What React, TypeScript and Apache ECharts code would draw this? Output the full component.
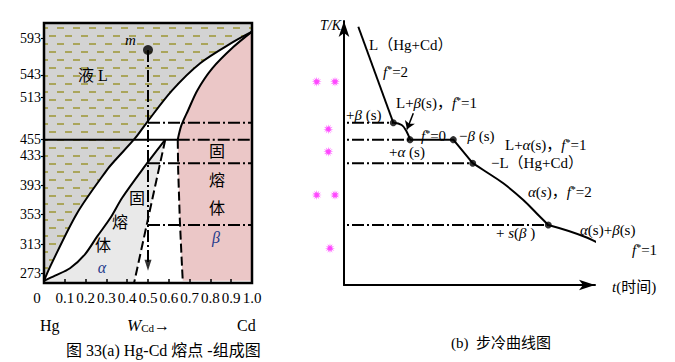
import React, { useEffect, useRef } from 'react';
import * as echarts from 'echarts';

// ---------- data (left: Hg-Cd melting point / composition diagram) ----------
const yTickValues = [273, 313, 353, 393, 433, 455, 513, 543, 593];
const liquidus = [[0, 263], [0.029, 282], [0.159, 355], [0.303, 414], [0.342, 427], [0.438, 457], [0.496, 479], [0.616, 522], [0.751, 559], [0.91, 588], [1.0, 602]];
const alphaSolidus = [[0, 263], [0.053, 270], [0.125, 280], [0.197, 299], [0.255, 323], [0.318, 348], [0.376, 376], [0.472, 414], [0.583, 455]];
const alphaSolvus = [[0.583, 455], [0.433, 260]];
const betaSolidus = [[0.643, 455], [0.66, 474], [0.693, 495], [0.737, 522], [0.809, 552], [0.91, 581], [1.0, 602]];
const betaSolvus = [[0.643, 455], [0.645, 414], [0.653, 346], [0.662, 291], [0.667, 263]];
const peritecticT = 455;
const peritecticW = [0, 0.643];
const meltW = 0.5;
const pointM = [0.5, 577];
const arrowT = 284;
const breakTemps = [478, 455, 423, 339];
const dashStartW = [0.5, 0.643, 0.5, 0.5];

// ---------- data (right: cooling curve) ----------
const seg1 = [[1.43, 608.6], [4.93, 478]];
const seg2 = [[4.93, 478], [5.77, 474.9], [6.27, 465.8], [6.6, 455]];
const seg3 = [[6.6, 455], [10.93, 455], [12.87, 423]];
const seg4 = [[12.87, 423], [13.93, 413.7], [15.93, 395.6], [17.93, 372.9], [19.6, 350.1], [20.43, 339]];
const seg5 = [[20.43, 339], [24.27, 321.9], [27.6, 298], [29.27, 283]];
const breakPoints = [[4.93, 478], [6.6, 455], [10.93, 455], [12.87, 423], [20.43, 339]];
const dashEndIndex = [0, 1, 3, 4];
const stars = [[-2.73, 533.8], [-0.9, 533.8], [-1.57, 469.3], [-1.57, 438.6], [-2.73, 379.7], [-0.9, 379.7], [-1.4, 307.2]];
const pointerArrow = [[6.93, 491], [6.3, 469]];

// ---------- layout ----------
const GL = { left: 44, top: 23, width: 208, height: 260 };
const GR = { left: 344, top: 21, width: 251, height: 264 };
const Y_MIN_L = 260;
const Y_MAX_L = 613.7;
const K_PER_PX = (Y_MAX_L - Y_MIN_L) / GL.height;
const Y_MIN_R = Y_MIN_L - (GR.top + GR.height - (GL.top + GL.height)) * K_PER_PX;
const Y_MAX_R = Y_MAX_L + (GL.top - GR.top) * K_PER_PX;
const T_PER_PX = 0.1;
const X_MAX_R = GR.width * T_PER_PX;
const T_LEFT = -(GR.left - (GL.left + GL.width)) * T_PER_PX;

const FONT = "'Liberation Serif', 'Noto Sans CJK SC', serif";
const DASHDOT = [12, 3, 2, 3];

const RICH: any = {
  i: { fontStyle: 'italic', fontFamily: FONT, fontSize: 15, fill: '#000' },
  sup: { fontFamily: FONT, fontSize: 10, verticalAlign: 'top', fill: '#000' },
  sub: { fontFamily: FONT, fontSize: 11, verticalAlign: 'bottom', fill: '#000' },
  w: { fontStyle: 'italic', fontFamily: FONT, fontSize: 17, fill: '#000' },
  b: { fontStyle: 'italic', fontFamily: FONT, fontSize: 16, fill: '#1f3b8c' },
};

function txt(x: number, y: number, text: string, extra: any = {}) {
  return {
    type: 'text',
    x,
    y,
    z: 100,
    style: {
      text,
      fontFamily: FONT,
      fontSize: 15,
      fill: '#000',
      align: 'left',
      verticalAlign: 'middle',
      textAlign: 'left',
      textVerticalAlign: 'middle',
      rich: RICH,
      ...extra,
    },
  };
}

function starPath() {
  let d = '';
  const n = 12;
  for (let i = 0; i < 2 * n; i++) {
    const r = i % 2 === 0 ? 10 : 4;
    const a = (Math.PI * i) / n;
    d += (i ? 'L' : 'M') + (r * Math.cos(a)).toFixed(2) + ',' + (r * Math.sin(a)).toFixed(2);
  }
  return 'path://' + d + 'Z';
}

function polySeries(points: number[][], color: string) {
  return {
    type: 'custom',
    xAxisIndex: 0,
    yAxisIndex: 0,
    z: 1,
    silent: true,
    data: points,
    encode: { x: 0, y: 1 },
    renderItem: (params: any, api: any) => {
      if (params.dataIndex !== 0) return null;
      const pts = points.map((p) => api.coord(p));
      return { type: 'polygon', shape: { points: pts }, style: { fill: color } };
    },
  };
}

function lineL(data: number[][], style: any = {}, extra: any = {}) {
  return {
    type: 'line',
    xAxisIndex: 0,
    yAxisIndex: 0,
    data,
    symbol: 'none',
    z: 3,
    silent: true,
    lineStyle: { color: '#000', width: 2, ...style },
    ...extra,
  };
}

function lineR(data: number[][], style: any = {}, extra: any = {}) {
  return {
    type: 'line',
    xAxisIndex: 1,
    yAxisIndex: 1,
    data,
    symbol: 'none',
    z: 3,
    clip: false,
    silent: true,
    lineStyle: { color: '#000', width: 2, ...style },
    ...extra,
  };
}

export default function App() {
  const ref = useRef<HTMLDivElement>(null);
  useEffect(() => {
    const chart = echarts.init(ref.current!, null, { renderer: 'svg' });

    const cv = document.createElement('canvas');
    cv.width = 16;
    cv.height = 16;
    const ctx = cv.getContext('2d')!;
    ctx.fillStyle = '#d3d3d3';
    ctx.fillRect(0, 0, 16, 16);
    ctx.fillStyle = '#aaa55b';
    ctx.fillRect(1, 3, 7, 2);
    ctx.fillRect(9, 11, 7, 2);
    const pattern: any = { image: cv, repeat: 'repeat', imageWidth: 16, imageHeight: 16 };

    const alphaPoly = [...alphaSolidus, alphaSolvus[1], [0, Y_MIN_L]];
    const betaPoly = [...betaSolidus, [1, betaSolvus[betaSolvus.length - 1][1]], ...betaSolvus.slice().reverse()];

    const series: any[] = [
      lineL(liquidus, { width: 0 }, { smooth: 0.3, z: 1, areaStyle: { origin: 'end', color: pattern, opacity: 1 } }),
      polySeries(alphaPoly, '#e9e9e9'),
      polySeries(betaPoly, '#ebc7c7'),
      lineL(liquidus, {}, { smooth: 0.3 }),
      lineL(alphaSolidus, {}, { smooth: 0.3 }),
      lineL(alphaSolvus, { type: [9, 4] }),
      lineL(betaSolidus, {}, { smooth: 0.3 }),
      lineL(betaSolvus, { type: [9, 4] }),
      lineL([[peritecticW[0], peritecticT], [peritecticW[1], peritecticT]]),
      ...breakTemps.map((t, i) => lineL([[dashStartW[i], t], [1, t]], { type: DASHDOT })),
      lineL([[meltW, pointM[1]], [meltW, arrowT]], { type: DASHDOT }),
      {
        type: 'scatter', xAxisIndex: 0, yAxisIndex: 0, z: 4, silent: true,
        data: [[meltW, arrowT]], symbol: 'triangle', symbolRotate: 180, symbolSize: [7, 11],
        itemStyle: { color: '#000' },
      },
      {
        type: 'scatter', xAxisIndex: 0, yAxisIndex: 0, z: 4, silent: true,
        data: [pointM], symbolSize: 10, itemStyle: { color: '#000' },
      },
      // right
      lineR(seg1),
      lineR(seg2, {}, {
        smooth: 0.4,
        markLine: {
          silent: true, symbol: ['none', 'arrow'], symbolSize: 8,
          label: { show: false }, lineStyle: { color: '#000', width: 1.5, type: 'solid' },
          data: [[{ coord: pointerArrow[0] }, { coord: pointerArrow[1] }]],
        },
      }),
      lineR(seg3),
      lineR(seg4, {}, { smooth: 0.4 }),
      lineR(seg5, {}, { smooth: 0.4 }),
      ...breakTemps.map((t, i) => lineR([[T_LEFT, t], [breakPoints[dashEndIndex[i]][0], t]], { type: DASHDOT })),
      {
        type: 'scatter', xAxisIndex: 1, yAxisIndex: 1, z: 4, silent: true, clip: false,
        data: breakPoints, symbolSize: 7, itemStyle: { color: '#000' },
      },
      {
        type: 'scatter', xAxisIndex: 1, yAxisIndex: 1, z: 4, silent: true, clip: false,
        data: stars, symbol: starPath(), symbolSize: 10, itemStyle: { color: '#ff1aff' },
      },
    ];

    const graphic: any[] = [
      // right chart texts
      txt(341, 25, 'T/K', { align: 'right', textAlign: 'right', fontStyle: 'italic', fontSize: 14 }),
      txt(369, 45, 'L（Hg+Cd）'),
      txt(383, 72, '{i|f}{sup|*}=2'),
      txt(396, 103, 'L+{i|β}(s)，{i|f}{sup|*}=1'),
      txt(346, 115, '+{i|β} (s)'),
      txt(421, 136, '{i|f}{sup|*}=0'),
      txt(459, 136, '−{i|β} (s)'),
      txt(389, 152, '+{i|α} (s)'),
      txt(505, 145, 'L+{i|α}(s)，{i|f}{sup|*}=1'),
      txt(491, 163, '−L（Hg+Cd）'),
      txt(528, 192, '{i|α}({i|s})，{i|f}{sup|*}=2'),
      txt(496, 233, '+ {i|s}({i|β} )'),
      txt(580, 230, '{i|α}(s)+{i|β}(s)'),
      txt(632, 250, '{i|f}{sup|*}=1'),
      txt(612, 287, '{i|t}(时间)'),
      txt(451, 343, '(b)  步冷曲线图'),
      // left chart texts
      txt(78, 75, '液 L', { fontSize: 16 }),
      txt(125, 40, '{i|m}'),
      txt(217, 151, '固', { fontSize: 16, align: 'center', textAlign: 'center' }),
      txt(217, 180, '熔', { fontSize: 16, align: 'center', textAlign: 'center' }),
      txt(217, 208, '体', { fontSize: 16, align: 'center', textAlign: 'center' }),
      txt(216, 237, '{b|β}', { fontSize: 16, align: 'center', textAlign: 'center' }),
      txt(137, 198, '固', { fontSize: 16, align: 'center', textAlign: 'center' }),
      txt(120, 222, '熔', { fontSize: 16, align: 'center', textAlign: 'center' }),
      txt(103, 245, '体', { fontSize: 16, align: 'center', textAlign: 'center' }),
      txt(102, 267, '{b|α}', { fontSize: 16, align: 'center', textAlign: 'center' }),
      txt(40, 325, 'Hg', { fontSize: 16 }),
      txt(127, 325, '{w|W}{sub|Cd}→', { fontSize: 16 }),
      txt(237, 325, 'Cd', { fontSize: 16 }),
      txt(66, 350, '图 33(a) Hg-Cd 熔点 -组成图', { fontSize: 16 }),
    ];

    chart.setOption({
      animation: false,
      backgroundColor: '#fff',
      grid: [
        { ...GL, show: true, borderColor: '#000', borderWidth: 2.5, backgroundColor: 'transparent', z: 10 },
        { ...GR },
      ],
      xAxis: [
        {
          gridIndex: 0, type: 'value', min: 0, max: 1, interval: 0.1, z: 10,
          axisLine: { show: false },
          axisTick: { show: true, inside: true, length: 4, lineStyle: { color: '#000', width: 1.5 } },
          splitLine: { show: false },
          axisLabel: {
            margin: 7, color: '#000', fontFamily: FONT, fontSize: 15,
            formatter: (v: number) => (v === 0 ? '{z|0}' : v.toFixed(1)),
            rich: { z: { padding: [0, 14, 0, 0], fontFamily: FONT, fontSize: 15, color: '#000' } },
          },
        },
        {
          gridIndex: 1, type: 'value', min: 0, max: X_MAX_R, z: 10,
          axisLine: { show: true, symbol: ['none', 'arrow'], symbolSize: [8, 16], lineStyle: { color: '#000', width: 2 } },
          axisTick: { show: false }, axisLabel: { show: false }, splitLine: { show: false },
        },
      ],
      yAxis: [
        {
          gridIndex: 0, type: 'value', min: Y_MIN_L, max: Y_MAX_L, z: 10,
          axisLine: { show: false },
          axisTick: { show: true, customValues: yTickValues, length: 3, lineStyle: { color: '#000', width: 1.2 } },
          axisLabel: { customValues: yTickValues, margin: 3, color: '#000', fontFamily: FONT, fontSize: 14 },
          splitLine: { show: false },
        },
        {
          gridIndex: 1, type: 'value', min: Y_MIN_R, max: Y_MAX_R, z: 10,
          axisLine: { show: true, symbol: ['none', 'arrow'], symbolSize: [8, 16], lineStyle: { color: '#000', width: 2 } },
          axisTick: { show: false }, axisLabel: { show: false }, splitLine: { show: false },
        },
      ],
      series,
      graphic,
    });
    return () => chart.dispose();
  }, []);
  return <div ref={ref} style={{ position: 'fixed', left: 0, top: 0, width: 675, height: 362 }} />;
}
